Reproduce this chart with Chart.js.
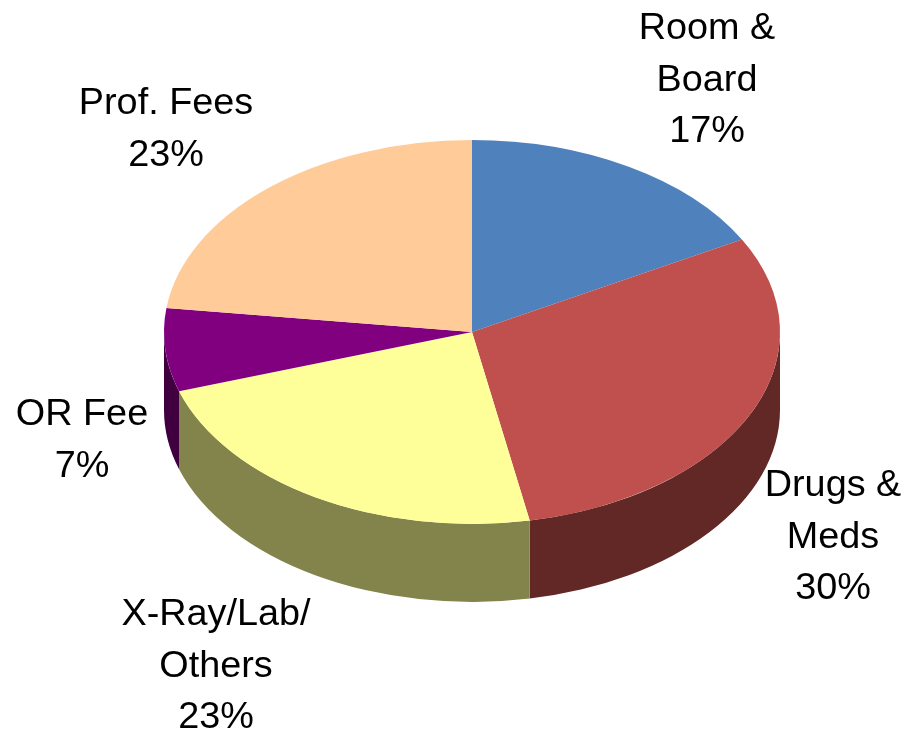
<!DOCTYPE html>
<html>
<head>
<meta charset="utf-8">
<style>
html,body{margin:0;padding:0;background:#fff;overflow:hidden}
canvas{display:block}
</style>
<script src="https://cdn.jsdelivr.net/npm/chart.js@4"></script>
</head>
<body>
<canvas id="c" width="911" height="732"></canvas>
<script>
const categories = ['Room & Board', 'Drugs & Meds', 'X-Ray/Lab/ Others', 'OR Fee', 'Prof. Fees'];
const categoryLines = [['Room &', 'Board'], ['Drugs &', 'Meds'], ['X-Ray/Lab/', 'Others'], ['OR Fee'], ['Prof. Fees']];
const values = [17, 30, 23, 7, 23];
const topColors = ['#4F81BD', '#C0504D', '#FFFF99', '#800080', '#FFCC99'];
const sideColors = ['#284060', '#622826', '#83834C', '#40003F', '#806650'];

const SQUASH = 0.623;
const DEPTH = 78;
const LINE_HEIGHT = 51.5;
const labelCenters = [[707, 80.5], [833, 537.5], [216, 666.5], [82, 440.5], [166, 129.5]];

const pie3d = {
  id: 'pie3d',
  beforeDatasetDraw(chart) {
    const ctx = chart.ctx;
    const arcs = chart.getDatasetMeta(0).data;
    arcs.forEach((arc, i) => {
      const a = Math.max(arc.startAngle, 0);
      const b = Math.min(arc.endAngle, Math.PI);
      if (b <= a) return;
      const r = arc.outerRadius, ry = r * SQUASH;
      ctx.beginPath();
      ctx.ellipse(arc.x, arc.y, r, ry, 0, a, b);
      ctx.ellipse(arc.x, arc.y + DEPTH, r, ry, 0, b, a, true);
      ctx.closePath();
      ctx.fillStyle = sideColors[i];
      ctx.fill();
    });
    const cy = arcs[0].y;
    ctx.save();
    ctx.translate(0, cy);
    ctx.scale(1, SQUASH);
    ctx.translate(0, -cy);
  },
  afterDatasetDraw(chart) {
    chart.ctx.restore();
  },
  afterDraw(chart) {
    const ctx = chart.ctx;
    ctx.save();
    ctx.font = '37.8px "Liberation Sans", Arial, sans-serif';
    ctx.fillStyle = '#000';
    ctx.textAlign = 'center';
    ctx.textBaseline = 'middle';
    categoryLines.forEach((lines, i) => {
      const all = lines.concat(values[i] + '%');
      const [x, y] = labelCenters[i];
      all.forEach((t, k) => {
        ctx.fillText(t, x, y + (k - (all.length - 1) / 2) * LINE_HEIGHT);
      });
    });
    ctx.restore();
  }
};

new Chart(document.getElementById('c'), {
  type: 'pie',
  data: {
    labels: categories,
    datasets: [{ data: values, backgroundColor: topColors, borderWidth: 0, hoverOffset: 0 }]
  },
  options: {
    responsive: false,
    animation: false,
    layout: { padding: { left: 164, right: 131, top: 24, bottom: 92 } },
    plugins: { legend: { display: false }, tooltip: { enabled: false }, title: { display: false } }
  },
  plugins: [pie3d]
});
</script>
</body>
</html>
